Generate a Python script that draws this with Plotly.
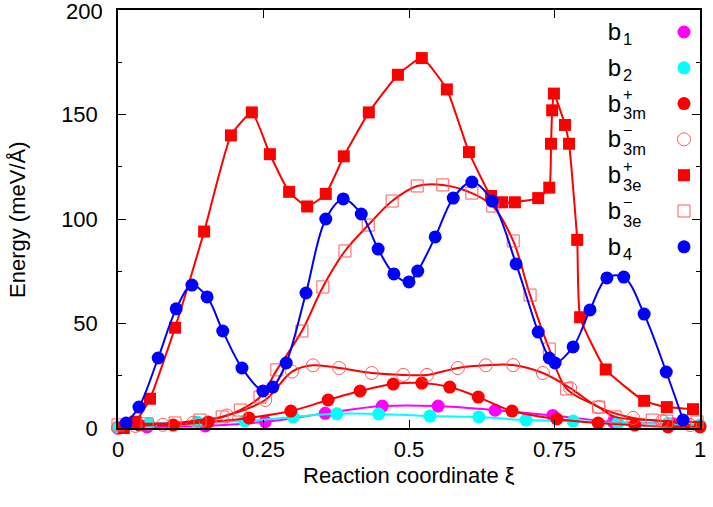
import plotly.graph_objects as go

# ---------------- data ----------------
b1_x = [0.0, 0.05, 0.15, 0.253, 0.356, 0.454, 0.55, 0.648, 0.747, 0.851, 0.954, 1.0]
b1_y = [0.0, 0.5, 1.0, 3.0, 7.0, 10.5, 10.5, 8.5, 6.0, 2.9, 2.0, 1.2]

b2_x = [0.0, 0.053, 0.136, 0.218, 0.301, 0.376, 0.448, 0.536, 0.62, 0.701, 0.782, 0.859, 0.945, 1.0]
b2_y = [0.5, 2.0, 2.9, 3.3, 5.3, 6.8, 6.7, 5.7, 5.3, 3.8, 3.3, 2.4, 2.2, 1.4]

b3mp_x = [0.01, 0.036, 0.095, 0.155, 0.225, 0.297, 0.361, 0.416, 0.473, 0.522, 0.57, 0.619, 0.677, 0.754, 0.825, 0.888, 0.945, 1.0]
b3mp_y = [0.5, 1.5, 1.4, 2.9, 4.8, 8.1, 13.4, 17.7, 21.0, 21.5, 19.6, 14.8, 8.1, 4.3, 2.4, 1.4, 0.5, 0.5]

b3mm_x = [0.0, 0.03, 0.077, 0.129, 0.187, 0.253, 0.299, 0.335, 0.38, 0.436, 0.49, 0.531, 0.584, 0.632, 0.679, 0.73, 0.777, 0.826, 0.885, 0.935, 0.983]
b3mm_y = [0.0, 1.0, 1.5, 2.5, 6.0, 13.4, 27.0, 30.0, 28.7, 26.3, 25.4, 25.4, 28.7, 30.0, 30.1, 26.3, 19.1, 10.0, 4.8, 3.3, 1.4]

b3ep_x = [0.01, 0.03, 0.055, 0.098, 0.148, 0.194, 0.23, 0.261, 0.294, 0.325, 0.357, 0.388, 0.431, 0.481, 0.522,
          0.565, 0.603, 0.641, 0.66, 0.682, 0.722, 0.741, 0.744, 0.746, 0.749, 0.768, 0.775, 0.789, 0.794,
          0.838, 0.904, 0.943, 0.988]
b3ep_y = [0.0, 3.0, 14.0, 48.0, 94.0, 140.0, 151.0, 131.0, 113.0, 106.0, 112.0, 130.0, 151.0, 169.0, 177.0,
          162.0, 132.0, 111.0, 108.0, 108.0, 110.0, 115.0, 136.0, 152.0, 160.0, 145.0, 136.0, 90.0, 53.0,
          28.0, 13.0, 10.0, 9.0]

b3em_x = [0.0, 0.05, 0.098, 0.141, 0.179, 0.21, 0.244, 0.273, 0.316, 0.352, 0.39, 0.43, 0.471, 0.514, 0.558,
          0.608, 0.644, 0.679, 0.708, 0.741, 0.771, 0.826, 0.854, 0.918, 0.943, 0.995]
b3em_y = [1.5, 2.0, 2.4, 3.8, 5.3, 8.6, 14.8, 27.8, 46.4, 67.5, 84.7, 97.1, 108.6, 115.8, 116.3,
          112.4, 106.2, 89.5, 63.6, 37.8, 18.7, 10.0, 5.3, 3.8, 3.3, 2.9]

b4_x = [0.014, 0.036, 0.069, 0.1, 0.127, 0.153, 0.18, 0.213, 0.249, 0.266, 0.289, 0.323, 0.357, 0.387, 0.418,
        0.447, 0.474, 0.5, 0.515, 0.545, 0.576, 0.608, 0.643, 0.684, 0.722, 0.741, 0.751, 0.782, 0.811,
        0.84, 0.869, 0.904, 0.942, 0.971]
b4_y = [2.4, 10.0, 33.5, 57.0, 68.4, 62.7, 46.4, 28.7, 17.7, 19.6, 31.1, 64.6, 100.0, 109.6, 102.4,
        85.6, 73.7, 69.9, 75.1, 91.4, 110.0, 117.7, 108.6, 78.5, 45.9, 33.5, 31.1, 38.8, 56.5,
        71.8, 72.2, 54.5, 26.8, 3.8]

x_ticks = [0, 0.25, 0.5, 0.75, 1]
x_tick_text = ["0", "0.25", "0.5", "0.75", "1"]
y_ticks = [0, 50, 100, 150, 200]
y_tick_text = ["0", "50", "100", "150", "200"]
x_title = "Reaction coordinate ξ"
y_title = "Energy (meV/Å)"

RED = "#ff0000"
LRED = "#ff5a5a"
FONT = "Liberation Sans, Arial, sans-serif"

fig = go.Figure()


def line_trace(x, y, color, smoothing=1.0):
    return go.Scatter(x=x, y=y, mode="lines", line=dict(color=color, width=2, shape="spline", smoothing=smoothing),
                      showlegend=False, hoverinfo="skip", cliponaxis=False)


def mark_trace(x, y, color, symbol, size, open_=False):
    if open_:
        m = dict(color=color, size=size, symbol=symbol, line=dict(color=color, width=1))
    else:
        m = dict(color=color, size=size, symbol=symbol, line=dict(width=0))
    return go.Scatter(x=x, y=y, mode="markers", marker=m, showlegend=False, cliponaxis=False)


# b1
fig.add_trace(line_trace(b1_x, b1_y, "#ff00ff"))
fig.add_trace(mark_trace(b1_x, b1_y, "#ff00ff", "circle", 13))
# b2
fig.add_trace(line_trace(b2_x, b2_y, "#00ffff"))
fig.add_trace(mark_trace(b2_x, b2_y, "#00ffff", "circle", 13))
# b3m+
fig.add_trace(line_trace(b3mp_x, b3mp_y, RED))
fig.add_trace(mark_trace(b3mp_x, b3mp_y, RED, "circle", 13))
# b3m-
fig.add_trace(line_trace(b3mm_x, b3mm_y, RED))
fig.add_trace(mark_trace(b3mm_x, b3mm_y, LRED, "circle-open", 13, open_=True))
# b3e+
fig.add_trace(line_trace(b3ep_x, b3ep_y, RED, smoothing=0.45))
fig.add_trace(mark_trace(b3ep_x, b3ep_y, RED, "square", 12))
# b3e-
fig.add_trace(line_trace(b3em_x, b3em_y, RED))
fig.add_trace(mark_trace(b3em_x, b3em_y, LRED, "square-open", 12, open_=True))
# b4
fig.add_trace(line_trace(b4_x, b4_y, "#0000ff"))
fig.add_trace(mark_trace(b4_x, b4_y, "#0000ff", "circle", 13))

# ---------------- layout helpers ----------------
L, R, T, B = 118, 700, 10, 428


def px2paper(px, py):
    return (px - L) / (R - L), (B - py) / (B - T)


legend_items = [
    ("1", "", "#ff00ff", "circle", False),
    ("2", "", "#00ffff", "circle", False),
    ("3m", "+", RED, "circle", False),
    ("3m", "−", LRED, "circle", True),
    ("3e", "+", RED, "square", False),
    ("3e", "−", LRED, "square", True),
    ("4", "", "#0000ff", "circle", False),
]
annotations = []
shapes = []
row0, dy = 31, 35.8
for i, (sub, sup, col, sym, op) in enumerate(legend_items):
    cy = row0 + i * dy
    bx, by = px2paper(606, cy)
    annotations.append(dict(x=bx, y=by, xref="paper", yref="paper", text="b", showarrow=False,
                            xanchor="left", yanchor="middle", width=15, height=22, borderpad=0,
                            font=dict(size=24, color="black", family=FONT)))
    sx, sy = px2paper(622, cy + (8 if not sup else 10))
    annotations.append(dict(x=sx, y=sy, xref="paper", yref="paper", text=sub, showarrow=False,
                            xanchor="left", yanchor="middle", height=13, borderpad=0,
                            font=dict(size=16.5, color="black", family=FONT)))
    if sup:
        ux, uy = px2paper(622, cy - 8.5)
        annotations.append(dict(x=ux, y=uy, xref="paper", yref="paper", text=sup, showarrow=False,
                                xanchor="left", yanchor="middle", height=12, borderpad=0,
                                font=dict(size=16.5, color="black", family=FONT)))
    mx, my = px2paper(684, cy + 1)
    r = 6.5 if sym == "circle" else 6
    shapes.append(dict(type="circle" if sym == "circle" else "rect", xref="paper", yref="paper",
                       xsizemode="pixel", ysizemode="pixel", xanchor=mx, yanchor=my,
                       x0=-r, x1=r, y0=-r, y1=r,
                       fillcolor="rgba(0,0,0,0)" if op else col,
                       line=dict(color=col, width=1 if op else 0)))

# axis titles
tx, ty = px2paper(409, 475)
annotations.append(dict(x=tx, y=ty, xref="paper", yref="paper", text=x_title, showarrow=False, height=20,
                        borderpad=0, xanchor="center", yanchor="middle",
                        font=dict(size=22, color="black", family=FONT)))
vx, vy = px2paper(17, 220)
annotations.append(dict(x=vx, y=vy, xref="paper", yref="paper", text=y_title, showarrow=False, textangle=-90,
                        xanchor="center", yanchor="middle", font=dict(size=22, color="black", family=FONT)))
# top y tick label kept inside the page
ax_, ay_ = px2paper(104, 0)
annotations.append(dict(x=ax_, y=ay_, xref="paper", yref="paper", text=y_tick_text[-1], showarrow=False,
                        height=20, borderpad=0, xanchor="right", yanchor="top",
                        font=dict(size=22, color="black", family=FONT)))

fig.update_layout(
    width=713, height=507,
    margin=dict(l=L, r=713 - R, t=T, b=507 - B),
    paper_bgcolor="white", plot_bgcolor="white",
    showlegend=False,
    font=dict(family=FONT, size=22, color="black"),
    annotations=annotations,
    shapes=shapes,
    xaxis=dict(range=[0, 1], tickvals=x_ticks, ticktext=x_tick_text, ticks="inside", ticklen=8,
               tickcolor="black", showline=True, linecolor="black", linewidth=1.5, mirror="allticks",
               showgrid=False, zeroline=False, ticklabelstandoff=1, automargin=False,
               tickfont=dict(size=22)),
    yaxis=dict(range=[0, 200], tickvals=y_ticks, ticktext=y_tick_text[:-1] + [""], ticks="inside", ticklen=8,
               tickcolor="black",
               showline=True, linecolor="black", linewidth=1.5, mirror="allticks",
               showgrid=False, zeroline=False, ticklabelstandoff=14,
               automargin=False,
               minor=dict(ticks="inside", ticklen=4, dtick=25, tick0=0, tickcolor="black", showgrid=False),
               tickfont=dict(size=22)),
)

fig.write_html("out.html")
